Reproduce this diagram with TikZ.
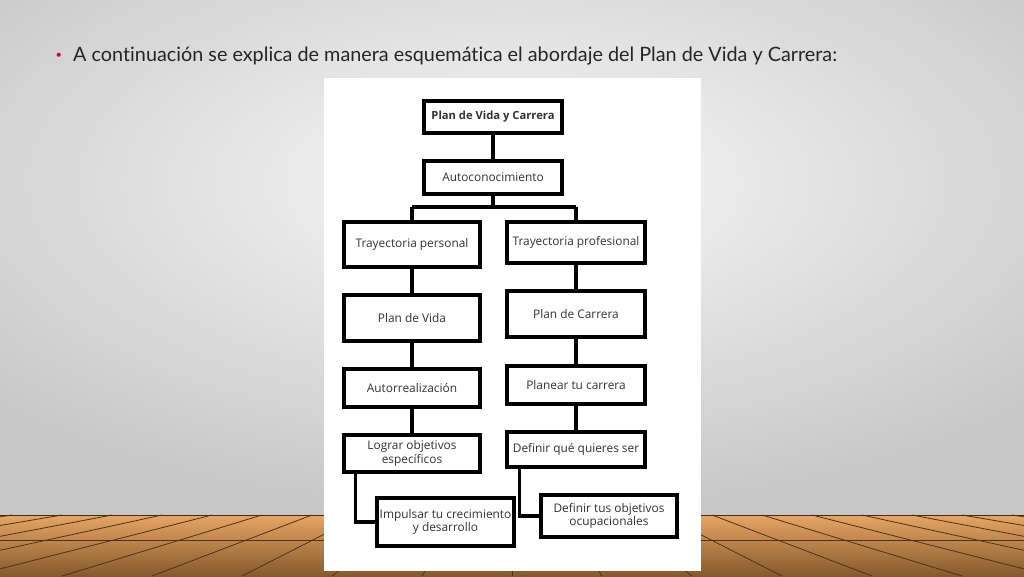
\documentclass[tikz,border=0pt]{standalone}
\usepackage{fontspec}
\setmainfont{Lato}[Ligatures=NoCommon]
\newfontfamily\boxfont{Open Sans}[Scale=0.95]
\begin{document}
\begin{tikzpicture}[x=1pt,y=-1pt,
  box/.style={draw=black,line width=3.4pt,fill=white,inner sep=1pt,align=center,font=\boxfont\fontsize{12.5}{13.5}\selectfont,text=black!80},
  conn/.style={draw=black,line width=3.4pt}]
\useasboundingbox (0,0) rectangle (1024,576);
% wall
\shade[inner color=white!95!gray, outer color=black!22] (-200,-150) rectangle (1224,515);
% floor
\shade[top color=brown!55!orange!70, bottom color=brown!70!black] (0,515) rectangle (1024,576);
\foreach \i in {0,...,22}{
  \draw[brown!40!black,line width=0.8pt] ({512+(\i-11)*50},515) -- ({512+(\i-11)*90},576);
}
\draw[brown!40!black,line width=0.6pt] (0,540) -- (1024,540);
\draw[brown!35!black,line width=1pt] (0,515) -- (1024,515);
% title
\node[anchor=west,text=purple!80!red,font=\fontsize{11}{12}\selectfont] (bul) at (52,56) {•};
\node[anchor=west,inner sep=0pt,text=black!85,font=\fontsize{19.8}{22}\selectfont] (title) at (73,56) {A continuación se explica de manera esquemática el abordaje del Plan de Vida y Carrera:};
% panel
\fill[white] (324,78) rectangle (701,571);
% boxes
\node[box,minimum width=138pt,minimum height=32pt,font=\boxfont\bfseries\fontsize{11.8}{13}\selectfont] (pvc) at (493,117) {Plan de Vida y Carrera};
\node[box,minimum width=138pt,minimum height=33pt] (auto) at (493,177.5) {Autoconocimiento};
\node[box,minimum width=136pt,minimum height=45pt] (tp) at (412,244.5) {Trayectoria personal};
\node[box,minimum width=138pt,minimum height=41pt] (tpr) at (576,242.5) {Trayectoria profesional};
\node[box,minimum width=136pt,minimum height=46pt] (pv) at (412,318) {Plan de Vida};
\node[box,minimum width=138pt,minimum height=46pt] (pc) at (576,314) {Plan de Carrera};
\node[box,minimum width=136pt,minimum height=38pt] (ar) at (412,388) {Autorrealización};
\node[box,minimum width=138pt,minimum height=38pt] (ptc) at (576,385) {Planear tu carrera};
\node[box,minimum width=136pt,minimum height=37pt] (lo) at (412,453.5) {Lograr objetivos\\específicos};
\node[box,minimum width=138pt,minimum height=35pt] (dq) at (576,449.5) {Definir qué quieres ser};
\coordinate (branch) at (493,207);
\draw[conn] (pvc) -- (auto);
\draw[conn] (auto) -- (branch);
\draw[conn] (branch -| tp) -- (branch -| tpr);
\draw[conn] (branch -| tp) -- (tp);
\draw[conn] (branch -| tpr) -- (tpr);
\draw[conn] (tp) -- (pv);
\draw[conn] (pv) -- (ar);
\draw[conn] (ar) -- (lo);
\draw[conn] (tpr) -- (pc);
\draw[conn] (pc) -- (ptc);
\draw[conn] (ptc) -- (dq);
\coordinate (la) at ([xshift=13pt]lo.south west);
\coordinate (ra) at ([xshift=14pt]dq.south west);
\draw[conn] (la) |- (445,522);
\draw[conn] (ra) |- (609,516);
\node[box,minimum width=137pt,minimum height=48pt,inner sep=0pt] (im) at (445.5,522) {Impulsar tu crecimiento\\y desarrollo};
\node[box,minimum width=136pt,minimum height=42pt] (dt) at (609,516) {Definir tus objetivos\\ocupacionales};
\end{tikzpicture}
\end{document}
